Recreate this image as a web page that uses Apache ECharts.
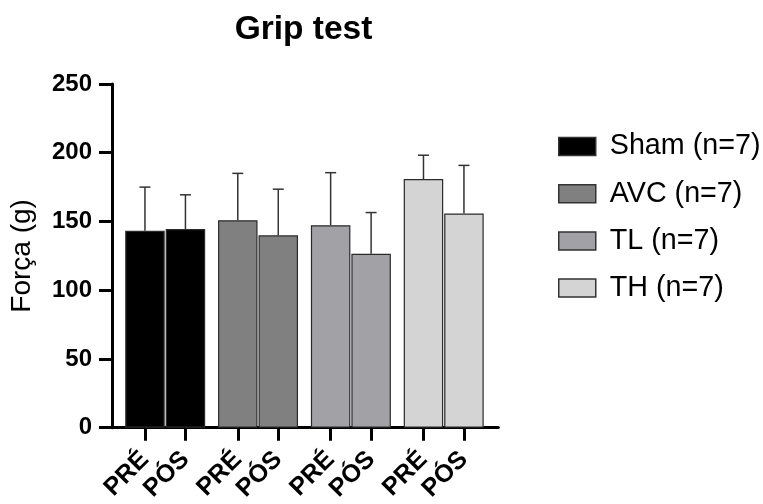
<!DOCTYPE html>
<html><head><meta charset="utf-8">
<script src="https://cdn.jsdelivr.net/npm/echarts@6/dist/echarts.min.js"></script>
<style>html,body{margin:0;padding:0;background:#fff}#c{width:763px;height:504px}</style>
</head><body><div id="c"></div>
<script>
// ---- data ----
const groups = ['Sham (n=7)', 'AVC (n=7)', 'TL (n=7)', 'TH (n=7)'];
const timepoints = ['PRÉ', 'PÓS'];
const preMeans = [143.3, 150.9, 147.3, 180.9];
const posMeans = [144.5, 139.9, 126.5, 155.8];
const preSD = [31.7, 34.1, 38.2, 17.3];
const posSD = [24.9, 33.6, 30.0, 35.0];
const yTicks = [0, 50, 100, 150, 200, 250];
const groupColors = ['#000000', '#808080', '#a2a1a6', '#d4d4d4'];

// ---- layout (group index on a value axis, PRÉ/PÓS offset either side) ----
const HALF = 0.218;
const xPos = [], tickLabels = [], barData = [], errData = [];
groups.forEach((g, i) => {
  [[preMeans, preSD], [posMeans, posSD]].forEach(([m, s], j) => {
    const x = i + (j === 0 ? -HALF : HALF);
    xPos.push(x);
    tickLabels.push(timepoints[j]);
    barData.push({ value: [x, m[i]], itemStyle: { color: groupColors[i] } });
    errData.push([x, m[i], m[i] + s[i]]);
  });
});
function labelFor(v) {
  let best = 0;
  xPos.forEach((p, k) => { if (Math.abs(p - v) < Math.abs(xPos[best] - v)) best = k; });
  return tickLabels[best];
}

const FONT = 'Liberation Sans, Arial, sans-serif';
const chart = echarts.init(document.getElementById('c'), null, { renderer: 'canvas' });
const legendSeries = groups.map((g, i) => ({
  name: g, type: 'line', data: [], itemStyle: { color: groupColors[i] }, lineStyle: { color: groupColors[i] }
}));

chart.setOption({
  animation: false,
  backgroundColor: '#fff',
  title: {
    text: 'Grip test', left: 298.5, top: 8, textAlign: 'center',
    textStyle: { fontFamily: FONT, fontSize: 33.5, fontWeight: 'bold', color: '#000' }
  },
  legend: {
    orient: 'vertical', left: 553, top: 127, icon: 'rect',
    itemWidth: 37, itemHeight: 18, itemGap: 18.2,
    itemStyle: { borderColor: '#333', borderWidth: 1.5 },
    data: groups,
    textStyle: { fontFamily: FONT, fontSize: 28.7, color: '#000', padding: [0, 0, 0, 9] }
  },
  grid: { left: 111.5, top: 84, right: 264.7, bottom: 72.5, containLabel: false },
  xAxis: {
    type: 'value', min: -0.573, max: 3.588,
    splitLine: { show: false },
    axisLine: { show: true, onZero: false, lineStyle: { color: '#000', width: 3 } },
    axisTick: { show: true, customValues: xPos, length: 13, lineStyle: { color: '#000', width: 3 } },
    axisLabel: {
      customValues: xPos, rotate: 45, margin: 28, formatter: labelFor,
      fontFamily: FONT, fontSize: 25, fontWeight: 'bold', color: '#000'
    }
  },
  yAxis: {
    type: 'value', min: yTicks[0], max: yTicks[yTicks.length - 1], interval: 50,
    name: 'Força (g)', nameLocation: 'middle', nameGap: 76,
    nameTextStyle: { fontFamily: FONT, fontSize: 28, color: '#000' },
    splitLine: { show: false },
    axisLine: { show: true, onZero: false, lineStyle: { color: '#000', width: 3 } },
    axisTick: { show: true, length: 13, lineStyle: { color: '#000', width: 3 } },
    axisLabel: { margin: 20, fontFamily: FONT, fontSize: 24, fontWeight: 'bold', color: '#000' }
  },
  series: [
    {
      type: 'bar', data: barData, barWidth: 39.5,
      itemStyle: { borderColor: '#2a2a2a', borderWidth: 1.2 }, z: 2
    },
    {
      type: 'custom', data: errData, z: 3,
      encode: { x: 0, y: [1, 2] },
      renderItem: (params, api) => {
        const x = api.value(0);
        const base = api.coord([x, api.value(1)]);
        const top = api.coord([x, api.value(2)]);
        const st = { stroke: '#333', lineWidth: 1.5 };
        return {
          type: 'group', children: [
            { type: 'line', shape: { x1: base[0], y1: base[1], x2: top[0], y2: top[1] }, style: st },
            { type: 'line', shape: { x1: top[0] - 5.5, y1: top[1], x2: top[0] + 5.5, y2: top[1] }, style: st }
          ]
        };
      }
    }
  ].concat(legendSeries)
});
</script></body></html>
